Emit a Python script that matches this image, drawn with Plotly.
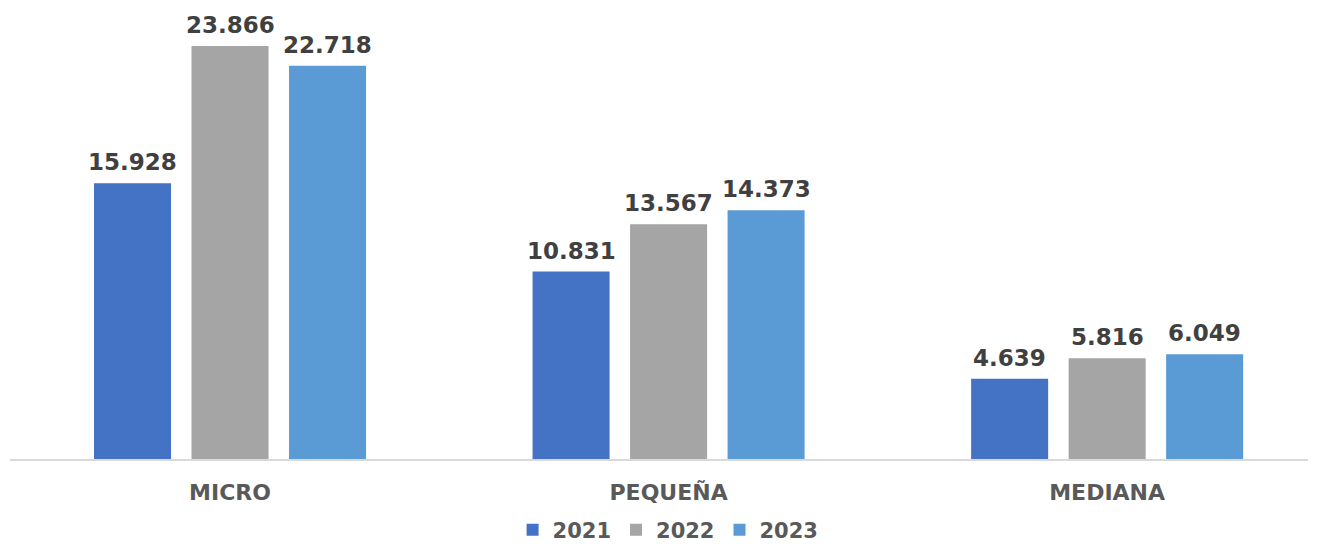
import plotly.graph_objects as go

# Datos
categorias = ["MICRO", "PEQUEÑA", "MEDIANA"]
anios = ["2021", "2022", "2023"]
valores_2021 = [15928, 10831, 4639]
valores_2022 = [23866, 13567, 5816]
valores_2023 = [22718, 14373, 6049]

colores = {"2021": "#4472C4", "2022": "#A5A5A5", "2023": "#5B9BD5"}
series = {"2021": valores_2021, "2022": valores_2022, "2023": valores_2023}

FUENTE = "DejaVu Sans"
DESPLAZ = 97.5  # px entre barras del mismo grupo


def fmt(v):
    # separador de miles con punto
    return f"{v:,}".replace(",", ".")


fig = go.Figure()
for i, anio in enumerate(anios):
    vals = series[anio]
    fig.add_trace(go.Bar(
        x=categorias, y=vals, name=anio,
        marker=dict(color=colores[anio], line=dict(width=0)),
        hovertemplate="%{x} " + anio + ": %{y}<extra></extra>",
    ))
    # etiquetas de datos encima de cada barra
    for cat, v in zip(categorias, vals):
        fig.add_annotation(
            x=cat, y=v, text=fmt(v), showarrow=False,
            xanchor="center", yanchor="bottom",
            xshift=(i - 1) * DESPLAZ, yshift=6,
            font=dict(family=FUENTE, size=23, color="#404040", weight="bold"),
        )

# la página añade 8 px de margen al body, por eso 1310x536
fig.update_layout(
    width=1310, height=536,
    margin=dict(l=2, r=10, t=12, b=85, autoexpand=False),
    paper_bgcolor="white", plot_bgcolor="white",
    barmode="group", bargap=0.333, bargroupgap=0.21,
    font=dict(family=FUENTE, color="#595959"),
    showlegend=True,
    legend=dict(orientation="h", x=0.507, xanchor="center",
                yref="container", y=0.026, yanchor="middle",
                font=dict(family=FUENTE, size=21, color="#595959", weight="bold"),
                itemwidth=30, traceorder="normal"),
)
fig.update_xaxes(
    range=[-0.5017, 2.458], showgrid=False, ticks="",
    showline=True, linecolor="#D9D9D9", linewidth=1.5,
    tickfont=dict(family=FUENTE, size=22, color="#595959", weight="bold"),
    ticklabelstandoff=13,
)
fig.update_yaxes(range=[0, 25361], visible=False, showgrid=False, zeroline=False)

fig.write_html("out.html")
